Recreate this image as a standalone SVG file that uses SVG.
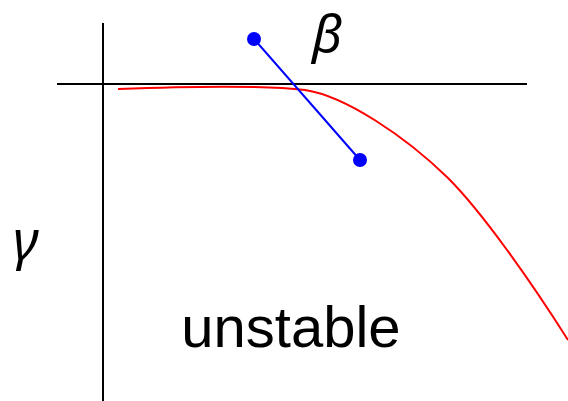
<svg xmlns="http://www.w3.org/2000/svg" width="568" height="401" viewBox="0 0 568 401">
<style>
.ax{stroke:#000;stroke-width:2;fill:none}
.lbl{font-family:"Liberation Sans",Arial,sans-serif;fill:#000}
.gr{font-family:"Noto Sans","DejaVu Sans",sans-serif;font-style:italic;fill:#000}
</style>
<rect width="568" height="401" fill="#fff"/>
<g id="axes">
<line class="ax" x1="103" y1="23" x2="103" y2="401"/>
<line class="ax" x1="57" y1="84" x2="527" y2="84"/>
</g>
<g id="curve">
<path d="M118,89 C200,86 270,86 305,90 C345,96 405,136 448,178 C482,212 530,280 568,340" fill="none" stroke="#f00" stroke-width="2"/>
</g>
<g id="connectors">
<line x1="254" y1="39" x2="360" y2="160" stroke="#00f" stroke-width="2"/>
<circle cx="254" cy="39" r="7" fill="#00f"/>
<circle cx="360" cy="160" r="7" fill="#00f"/>
</g>
<text class="gr" x="312" y="52" font-size="52">β</text>
<text class="gr" x="13" y="260" font-size="54">γ</text>
<text class="lbl" x="291" y="347" font-size="58" text-anchor="middle">unstable</text>
</svg>
